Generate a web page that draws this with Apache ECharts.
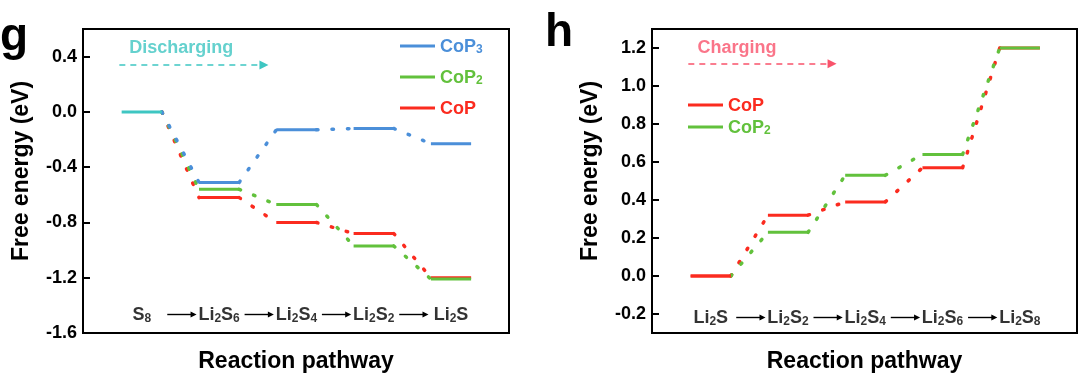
<!DOCTYPE html>
<html>
<head>
<meta charset="utf-8">
<script src="https://cdn.jsdelivr.net/npm/echarts@6/dist/echarts.min.js"></script>
<style>
  html, body { margin: 0; padding: 0; background: #fff; }
  #main { width: 1080px; height: 378px; }
</style>
</head>
<body>
<div id="main"></div>
<script>
// discharging panel (g)
var disSteps = ['S8', 'Li2S6', 'Li2S4', 'Li2S2', 'Li2S'];
var disCoP3 = [0.0, -0.51, -0.13, -0.12, -0.23];
var disCoP2 = [0.0, -0.56, -0.67, -0.97, -1.21];
var disCoP  = [0.0, -0.62, -0.80, -0.88, -1.20];

// charging panel (h)
var chaSteps = ['Li2S', 'Li2S2', 'Li2S4', 'Li2S6', 'Li2S8'];
var chaCoP  = [0.0, 0.32, 0.39, 0.57, 1.20];
var chaCoP2 = [0.0, 0.23, 0.53, 0.64, 1.20];

var HW = 0.26; // half width of an energy level (x units)

var C_TEAL = '#3ec6c2', C_BLUE = '#4b8fd9', C_GREEN = '#62c13c',
    C_RED = '#fb2b1f', C_PINK = '#f9536b';
var FONT = 'Liberation Sans, Arial, sans-serif';

var myChart = echarts.init(document.getElementById('main'));

function levelData(vals, from, to) {
  var d = [];
  for (var i = from; i < to; i++) {
    d.push([i - HW, vals[i]], [i + HW, vals[i]], null);
  }
  return d;
}
function pathData(vals) {
  var d = [];
  for (var i = 0; i < vals.length - 1; i++) {
    d.push([i + HW, vals[i]], [i + 1 - HW, vals[i + 1]], null);
  }
  return d;
}
function chem(name, key) {
  return name.replace(/([A-Za-z]+)|(\d+)/g, function(m, a, d) {
    return a ? '{' + key + '|' + a + '}' : '{' + key + 's|' + d + '}';
  });
}
function rich(key, color, size) {
  var r = {};
  r[key] = { color: color, fontSize: size, fontWeight: 'bold', fontFamily: FONT, lineHeight: 20,
    verticalAlign: 'bottom', textBorderWidth: 0 };
  r[key + 's'] = { color: color, fontSize: Math.round(size * 0.66), fontWeight: 'bold', fontFamily: FONT,
    lineHeight: 11, verticalAlign: 'bottom', textBorderWidth: 0 };
  return r;
}
var legendRich = Object.assign({}, rich('b', C_BLUE, 18), rich('g', C_GREEN, 18), rich('r', C_RED, 18));
var legendKey = { CoP3: 'b', CoP2: 'g', CoP: 'r' };
var stepRich = rich('k', '#000', 18);

function levelSeries(name, vals, color, gi, from, to, z) {
  return {
    name: name, type: 'line', xAxisIndex: gi, yAxisIndex: gi,
    data: levelData(vals, from, to), symbol: 'none', connectNulls: false,
    lineStyle: { color: color, width: 3 }, itemStyle: { color: color }, z: z
  };
}
function pathSeries(name, vals, color, gi) {
  return {
    name: name + ' path', type: 'line', xAxisIndex: gi, yAxisIndex: gi,
    data: pathData(vals), symbol: 'none', connectNulls: false,
    lineStyle: { color: color, width: 3.5, type: [1.5, 14], cap: 'round' }, z: 2
  };
}
function stepSeries(steps, y, gi) {
  var arrows = [];
  for (var i = 0; i < steps.length - 1; i++) {
    arrows.push([{ coord: [i + 0.5 - 0.17, y] }, { coord: [i + 0.5 + 0.17, y] }]);
  }
  return {
    type: 'scatter', xAxisIndex: gi, yAxisIndex: gi, symbolSize: 0, silent: true,
    itemStyle: { color: 'transparent' },
    data: steps.map(function(s, i) { return { value: [i, y], name: s }; }),
    label: { show: true, position: 'inside', textBorderWidth: 0,
      formatter: function(p) { return chem(p.name, 'k'); }, rich: stepRich },
    markLine: {
      silent: true, symbol: ['none', 'triangle'], symbolSize: 6, label: { show: false },
      lineStyle: { color: '#000', width: 1.4, type: 'solid' }, data: arrows
    }
  };
}
function noteSeries(text, color, textPos, from, to, gi) {
  return {
    type: 'scatter', xAxisIndex: gi, yAxisIndex: gi, symbolSize: 0, silent: true,
    itemStyle: { color: 'transparent' },
    data: [{ value: textPos, name: text }],
    label: { show: true, position: 'inside', formatter: '{b}', color: color, textBorderWidth: 0,
      fontSize: 18, fontWeight: 'bold', fontFamily: FONT },
    markLine: {
      silent: true, symbol: ['none', 'triangle'], symbolSize: 9, label: { show: false },
      lineStyle: { color: color, width: 1.6, type: [6, 5] },
      data: [[{ coord: from }, { coord: to }]]
    }
  };
}
function yAxisCfg(gi, extra) {
  return Object.assign({
    type: 'value', gridIndex: gi,
    name: 'Free energy (eV)', nameLocation: 'middle', nameGap: 50,
    nameTextStyle: { fontSize: 23, fontWeight: 'bold', color: '#000', fontFamily: FONT, padding: [0, 0, 0, 20] },
    axisLine: { show: true, onZero: false, lineStyle: { color: '#000', width: 1.5 } },
    axisTick: { show: true, inside: true, length: 7, lineStyle: { color: '#000', width: 2 } },
    axisLabel: { fontSize: 18, fontWeight: 'bold', color: '#000', fontFamily: FONT, margin: 6,
      showMaxLabel: false, showMinLabel: gi === 0,
      formatter: function(v) { return v.toFixed(1); } },
    splitLine: { show: false }
  }, extra);
}
function xAxisCfg(gi, min, max) {
  return {
    type: 'value', gridIndex: gi, min: min, max: max,
    name: 'Reaction pathway', nameLocation: 'middle', nameGap: 17,
    nameTextStyle: { fontSize: 23, fontWeight: 'bold', color: '#000', fontFamily: FONT },
    axisLine: { show: true, onZero: false, lineStyle: { color: '#000', width: 2 } },
    axisTick: { show: false }, axisLabel: { show: false }, splitLine: { show: false }
  };
}

var option = {
  animation: false,
  backgroundColor: '#fff',
  textStyle: { fontFamily: FONT },
  title: [
    { text: 'g', left: 0, top: 14, padding: 0, textStyle: { fontSize: 46, fontWeight: 'bold', color: '#000', fontFamily: FONT } },
    { text: 'h', left: 545, top: 10, padding: 0, textStyle: { fontSize: 46, fontWeight: 'bold', color: '#000', fontFamily: FONT } }
  ],
  grid: [
    { left: 83, top: 29, width: 426, height: 305, show: true, borderColor: '#000', borderWidth: 2 },
    { left: 652, top: 29, width: 425, height: 306, show: true, borderColor: '#000', borderWidth: 2 }
  ],
  legend: [
    { data: ['CoP3', 'CoP2', 'CoP'], orient: 'vertical', left: 400, top: 38, padding: 0, icon: 'rect',
      itemWidth: 35, itemHeight: 3, itemGap: 13, selectedMode: false,
      formatter: function(n) { return chem(n, legendKey[n]); }, textStyle: { rich: legendRich } },
    { data: ['CoP', 'CoP2'], orient: 'vertical', left: 688, top: 97, padding: 0, icon: 'rect',
      itemWidth: 35, itemHeight: 3, itemGap: 4, selectedMode: false,
      formatter: function(n) { return chem(n, legendKey[n]); }, textStyle: { rich: legendRich } }
  ],
  xAxis: [xAxisCfg(0, -0.76, 4.75), xAxisCfg(1, -0.76, 4.74)],
  yAxis: [
    yAxisCfg(0, { min: -1.6, max: 0.6, interval: 0.4 }),
    yAxisCfg(1, { min: -0.3, max: 1.3, splitNumber: 8 })
  ],
  series: [
    // panel g
    pathSeries('CoP', disCoP, C_RED, 0),
    pathSeries('CoP2', disCoP2, C_GREEN, 0),
    pathSeries('CoP3', disCoP3, C_BLUE, 0),
    levelSeries('CoP', disCoP, C_RED, 0, 1, disCoP.length, 3),
    levelSeries('CoP2', disCoP2, C_GREEN, 0, 1, disCoP2.length, 3),
    levelSeries('CoP3', disCoP3, C_BLUE, 0, 1, disCoP3.length, 3),
    levelSeries('start g', disCoP, C_TEAL, 0, 0, 1, 4),
    stepSeries(disSteps, -1.466, 0),
    noteSeries('Discharging', C_TEAL, [0.51, 0.46], [-0.29, 0.339], [1.58, 0.339], 0),
    // panel h
    pathSeries('CoP', chaCoP, C_RED, 1),
    pathSeries('CoP2', chaCoP2, C_GREEN, 1),
    levelSeries('CoP', chaCoP, C_RED, 1, 0, chaCoP.length, 3),
    levelSeries('CoP2', chaCoP2, C_GREEN, 1, 1, chaCoP2.length, 3),
    levelSeries('start h', chaCoP, C_RED, 1, 0, 1, 4),
    stepSeries(chaSteps, -0.218, 1),
    noteSeries('Charging', C_PINK, [0.34, 1.20], [-0.29, 1.117], [1.57, 1.117], 1)
  ]
};

myChart.setOption(option);
</script>
</body>
</html>
